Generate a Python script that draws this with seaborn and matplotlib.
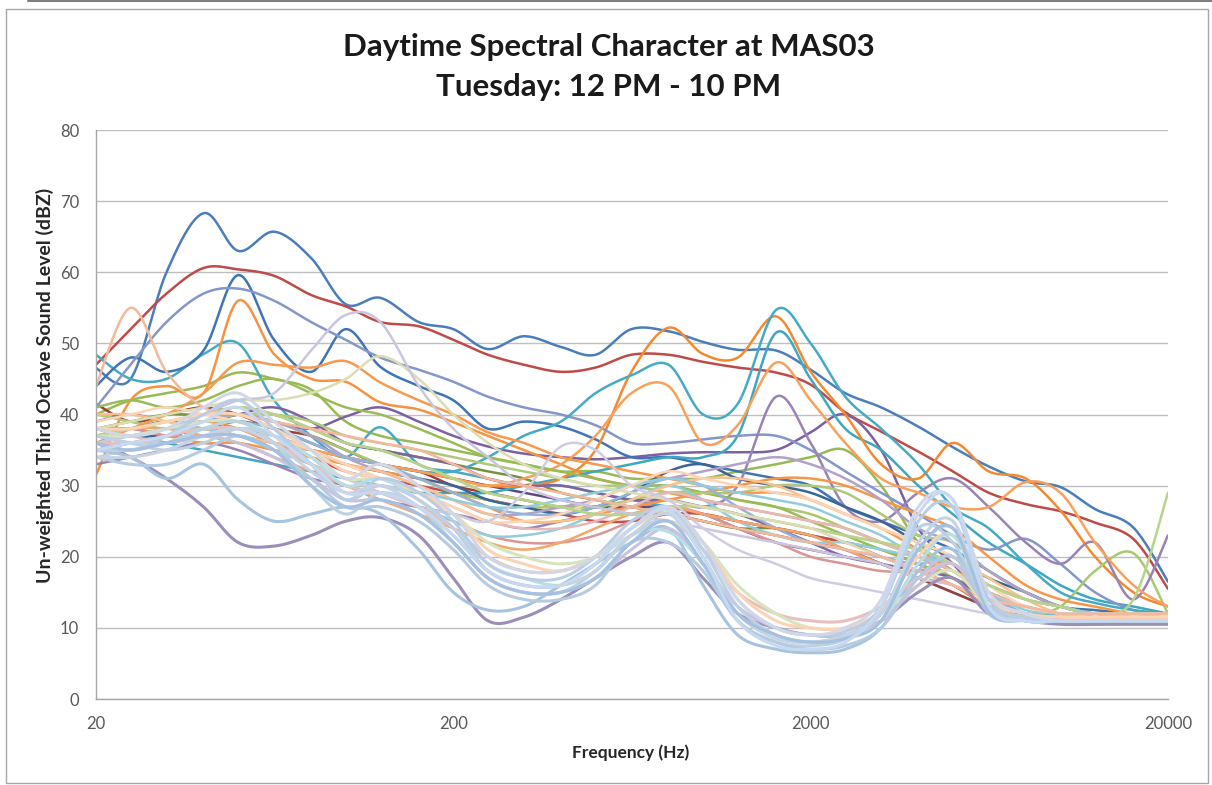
import numpy as np
import matplotlib
matplotlib.use("Agg")
import matplotlib.pyplot as plt
import seaborn as sns
from matplotlib.patches import Rectangle
from matplotlib.lines import Line2D
from matplotlib.ticker import NullLocator

# ---------------- data (third-octave band levels, dBZ) ----------------
freqs = [20, 25, 31.5, 40, 50, 63, 80, 100, 125, 160, 200, 250, 315, 400, 500,
         630, 800, 1000, 1250, 1600, 2000, 2500, 3150, 4000, 5000, 6300, 8000,
         10000, 12500, 16000, 20000]

x_ticks = [20, 200, 2000, 20000]
x_tick_labels = ["20", "200", "2000", "20000"]
y_ticks = [0, 10, 20, 30, 40, 50, 60, 70, 80]

title_line1 = "Daytime Spectral Character at MAS03"
title_line2 = "Tuesday: 12 PM - 10 PM"
x_label = "Frequency (Hz)"
y_label = "Un-weighted Third Octave Sound Level (dBZ)"

# prominent spectra
blue_a = [46.5, 45, 60, 68.3, 63, 65.7, 62, 55.5, 56.4, 53, 52, 49.2, 51, 49.5, 48.4, 52, 51.7, 50.2, 49.1, 49, 46.3, 43, 41, 38.3, 35.4, 32.7, 30.6, 29.8, 26.7, 24.1, 16.5]
red_a = [47, 52, 57, 60.6, 60.4, 59.5, 56.8, 55.2, 53, 52.4, 50.5, 48.4, 47, 46, 46.6, 48.4, 48.4, 47.4, 46.6, 45.9, 44.2, 40.3, 37.6, 34.8, 32, 29, 27.4, 26.4, 24.8, 22.5, 15.5]
blue_b = [44, 48, 46, 49, 59.6, 50.5, 46, 52, 46.7, 44, 42, 38, 39, 38.3, 36.5, 34, 34, 33, 32, 31, 30, 27, 25, 23, 21, 18, 15, 13, 12.5, 12, 12]
peri = [41, 47, 53, 57, 57.7, 56, 53, 50.5, 48, 46.3, 44.6, 42.5, 41, 40, 38.5, 36, 36, 36.5, 37, 37, 35, 32, 29, 26, 23, 21, 22.5, 19, 15, 12.5, 12]
peach = [44, 55, 46, 41, 40, 39, 38, 37, 36, 35, 33, 31, 30, 29, 28, 27, 26, 25, 24, 23, 22, 21, 20, 18, 16, 14, 13, 12, 12, 12, 12]
orange_a = [31.5, 42, 44, 43, 56, 48.5, 45, 44.6, 41.7, 40.7, 38.9, 37, 35, 33, 31, 30, 29, 28, 27, 26, 25, 24, 22, 20, 18, 16, 14, 13, 12, 12, 12]
orange_b = [36, 38, 40, 43, 47.3, 47, 46.6, 47.5, 44.5, 42, 40, 37.5, 36, 34, 33, 32, 31, 30, 29, 29, 28, 26, 24, 21, 18, 16, 14, 13, 12, 12, 12]
orange_c = [38, 37, 38, 39, 38, 36, 35, 34, 33, 32, 31, 30, 30, 31, 35, 46, 52.2, 48.5, 48, 53.8, 46, 40, 33, 31, 36, 32, 31, 26.5, 20, 15, 13]
orange_d = [35, 36, 37, 38, 37, 36, 35, 34, 33, 32, 31, 30, 31, 33, 37, 43, 44, 36, 38.5, 47.3, 42, 36, 31, 29, 27, 27, 30.5, 29, 22, 16, 13]
teal_a = [48.4, 45, 45, 48.5, 50, 42, 37, 34, 38.2, 33, 32, 31, 30, 30, 29, 28, 27, 26, 25, 24, 23, 21, 19, 17, 15, 13, 12, 12, 11.5, 11.5, 11.5]
teal_b = [37, 38, 39, 38, 37, 36, 35, 34, 33, 32, 32, 34, 37, 39, 43, 45.5, 47, 40, 41.5, 54.7, 50, 42.5, 38, 33, 27, 24, 19, 15, 13.5, 12.5, 12]
teal_c = [36, 37, 36, 35, 34, 33, 32, 31, 30, 29, 29, 29, 30, 31, 32, 33, 34, 34, 37, 51.5, 45, 38, 35, 30, 26, 22, 19, 16, 14, 13, 12]
lav_a = [33, 34, 35, 36, 35, 33, 31, 30, 28, 27, 26, 25, 24, 25, 26, 27, 28, 27, 30, 42.5, 36, 27, 25, 29, 31, 27, 22, 19, 22, 14, 23]
purple_a = [38, 37, 38, 39, 40, 39, 38, 39.7, 41, 39, 37, 35.5, 34.5, 34, 33.7, 34, 34.5, 34.7, 34.7, 35, 37.5, 40, 35, 24, 19, 14, 12, 12, 11.5, 11.5, 11.5]
gray_lav = [36, 37, 38, 40, 42, 43, 49, 54, 53, 44, 38, 34, 30, 28, 27, 26, 25, 24, 23, 22, 21, 20, 19, 17, 16, 14, 13, 12, 12, 11.5, 11.5]
gray_b = [34, 35, 36, 37, 38, 36, 33, 31, 29, 27, 26, 25, 29, 35.5, 35, 30, 28, 24, 21, 19, 17, 16, 15, 14, 13, 12, 11.5, 11, 11, 11, 11]
beige = [38, 39, 40, 41, 42, 42, 43, 45, 48.2, 45, 40, 36, 33, 31, 30, 29, 28, 27, 26, 25, 24, 22, 20, 18, 16, 14, 13, 12, 12, 12, 12]
green_a = [40, 42, 43, 44, 45.9, 45, 43.5, 39, 37, 36, 35, 34, 33, 32, 32, 31, 31, 31, 32, 33, 34, 35, 30, 22, 18, 15, 13, 12, 12, 12, 12]
green_tail = [37, 38, 39, 40, 41, 40, 38, 36, 35, 33, 31, 29, 28, 27, 26, 26, 27, 27, 26, 25, 24, 23, 22, 21, 19, 16, 14, 13, 12, 14, 29]
green_bump = [38, 38, 39, 40, 40, 39, 37, 35, 33, 31, 29, 28, 27, 27, 27, 28, 29, 29, 28, 27, 26, 24, 22, 20, 17, 14, 12, 13, 18, 20.5, 12]

# mid-level spectra
mid_01 = [41, 42, 41, 42, 44, 45, 43, 41, 40, 38, 36, 34, 33, 32, 31, 30, 30, 29, 28, 27, 25, 23, 21, 19, 17, 15, 13, 12, 12, 12, 12]
mid_02 = [39, 40, 39, 39, 40, 41, 39, 36, 35, 34, 33, 31, 30, 30, 29, 28, 28, 27, 26, 24, 22, 20, 19, 18, 17, 14, 12, 11.5, 11.5, 11.5, 11.5]
mid_03 = [41.5, 39, 40, 41, 40, 38, 37, 35, 33, 32, 30, 29, 28, 27, 27, 26, 26, 25, 24, 23, 22, 21, 19, 17, 15, 13, 12, 11, 11, 11, 11]
mid_04 = [37, 38, 39, 40, 41, 40, 38, 36, 35, 33, 31, 29, 28, 27, 26, 26, 27, 27, 26, 25, 24, 23, 22, 21, 19, 16, 14, 13, 12, 12, 12]
mid_05 = [40, 40, 39, 38, 37, 36, 35, 33, 32, 30, 28, 26, 25, 25, 26, 28, 30, 31, 31, 30, 28, 26, 24, 22, 20, 17, 14, 12, 11.5, 11.5, 11.5]
mid_06 = [36, 37, 38, 38, 37, 35, 33, 31, 30, 29, 28, 27, 27, 28, 29, 30, 31, 30, 29, 28, 27, 25, 23, 20, 19, 16, 14, 13, 12, 12, 12]
mid_07 = [38, 37, 36, 37, 38, 37, 35, 33, 31, 29, 27, 25, 24, 24, 25, 27, 29, 28, 27, 26, 25, 24, 22, 20, 18, 15, 13, 12, 12, 12, 12]
mid_08 = [36, 37, 37, 38, 38, 37, 35, 33, 32, 31, 30, 28, 27, 26, 27, 29, 32, 33, 31, 30, 29, 27, 25, 22, 20, 17, 15, 13, 12, 12, 12]
mid_09 = [37, 38, 37, 36, 36, 35, 34, 33, 32, 31, 29, 27, 25, 25, 26, 27, 28, 29, 30, 31, 31, 30, 28, 26, 24, 20, 16, 14, 13, 12, 12]
mid_10 = [40, 39, 38, 39, 40, 40, 39, 37, 36, 35, 34, 33, 32, 31, 30, 30, 29, 29, 29, 30, 30, 29, 26, 23, 22, 18, 15, 13, 12, 12, 12]
mid_11 = [37, 36, 36, 37, 38, 36, 34, 32, 31, 30, 29, 28, 27, 26, 25, 25, 26, 26, 25, 24, 23, 22, 20, 18, 16, 13, 11.5, 11, 11, 11, 11]
mid_12 = [35, 36, 37, 39, 40, 39, 37, 34, 32, 30, 28, 26, 26, 27, 28, 30, 31, 32, 33, 34, 33, 31, 28, 24, 22, 18, 15, 13, 12, 12, 12]
mid_13 = [39, 40, 41, 40, 39, 37, 35, 33, 31, 29, 27, 25, 25, 26, 28, 30, 32, 31, 30, 29, 28, 26, 24, 22, 20, 16, 13, 12, 11.5, 11.5, 11.5]
mid_14 = [37, 37, 38, 39, 39, 38, 36, 34, 33, 31, 29, 27, 26, 26, 27, 29, 31, 30, 27, 24, 22, 21, 20, 19, 20, 15, 12, 11.5, 11.5, 11.5, 11.5]
mid_15 = [38, 38, 37, 37, 37, 35, 33, 31, 29, 27, 25, 23, 22, 22, 23, 25, 27, 26, 24, 22, 20, 19, 18, 18, 19, 14, 12, 11.5, 11.5, 11.5, 11.5]
mid_16 = [36, 36, 37, 38, 38, 36, 33, 30, 29, 27, 25, 23, 23, 24, 26, 28, 30, 28, 25, 23, 22, 22, 21, 20, 19, 15, 12.5, 12, 12, 12, 12]
mid_17 = [35, 36, 37, 38, 39, 38, 36, 34, 33, 32, 31, 30, 29, 28, 27, 27, 27, 26, 24, 22, 21, 20, 19, 17, 16, 13, 11.5, 11, 11, 11, 11]
mid_18 = [37, 38, 38, 37, 36, 34, 32, 30, 28, 26, 24, 22, 21, 22, 24, 26, 27, 26, 25, 24, 23, 21, 19, 17, 16, 13, 11.5, 11, 11, 11, 11]
mid_19 = [38, 39, 40, 40, 41, 40, 38, 36, 35, 34, 33, 32, 31, 29, 28, 27, 26, 25, 24, 24, 23, 22, 21, 19, 17, 14, 12, 11.5, 11.5, 11.5, 11.5]

# low, light spectra (bumps near 800 Hz and 4-5 kHz)
low_01 = [37, 36, 35, 36, 38, 37, 33, 28, 30, 28, 24, 18, 16, 16, 19, 24, 26.5, 21, 13, 9, 8, 9, 12, 21, 24, 14, 11, 11, 11, 11, 11]
low_02 = [35, 35, 36, 38, 39, 36, 30, 26, 29, 27, 22, 17, 15, 15, 18, 23, 25, 19, 11, 8, 7.5, 8.5, 13, 24, 22, 13, 11, 11, 11, 11, 11]
low_03 = [38, 37, 38, 41, 43, 39, 35, 31, 33, 30, 26, 20, 18, 18, 20, 24, 27, 22, 14, 10, 9, 10, 14, 27, 28, 15, 12, 11, 11, 11, 11]
low_04 = [34, 33, 33, 35, 37, 35, 31, 27, 27, 25, 21, 16, 14, 14, 16, 22, 22, 18, 11, 8, 7, 7.5, 10, 17, 20, 13, 11, 11, 11, 11, 11]
low_05 = [36, 34, 31, 27, 22, 21.5, 23, 25, 25.5, 23, 17, 11, 11.5, 14, 17, 20, 22, 17, 12, 10, 9, 9, 11, 15, 17, 12, 11, 10.5, 10.5, 10.5, 10.5]
low_06 = [35, 34, 31, 33, 28, 25, 26, 27, 26, 21, 15, 12.5, 13, 16, 19, 22, 24, 16, 9, 7, 6.5, 7, 10, 18, 21, 12, 11, 11, 11, 11, 11]
low_07 = [36, 35, 37, 40, 42, 38, 33, 28, 31, 29, 25, 19, 17, 17, 20, 25, 27, 22, 14, 10, 9, 9.5, 13, 25, 27, 14, 11.5, 11, 11, 11, 11]
low_08 = [34, 34, 35, 37, 38, 36, 32, 29, 30, 27, 23, 18, 16, 16, 18, 23, 26, 20, 12, 8.5, 8, 9, 12, 22, 25, 13, 11, 11, 11, 11, 11]
low_09 = [37, 36, 36, 38, 39, 37, 34, 30, 31, 28, 24, 19, 17, 16, 18, 23, 23.5, 19, 12, 9, 8, 8.5, 11, 19, 23, 13, 11, 11, 11, 11, 11]
low_10 = [36, 36, 37, 38, 38, 36, 33, 30, 29, 27, 24, 20, 18, 18, 20, 23, 25, 21, 15, 12, 11, 11, 13, 17, 19, 14, 12, 11.5, 11.5, 11.5, 11.5]
low_11 = [35, 35, 36, 37, 36, 34, 31, 28, 28, 26, 22, 17, 15, 15, 17, 21, 24, 19, 13, 10, 9, 9, 11, 16, 19, 13, 11, 11, 11, 11, 11]
low_12 = [37, 37, 38, 39, 39, 37, 34, 31, 31, 29, 26, 22, 20, 19, 20, 23, 25, 22, 16, 12, 10, 10, 12, 16, 18, 13, 11.5, 11, 11, 11, 11]
low_13 = [35, 36, 37, 39, 41, 37, 33, 29, 29, 27, 23, 18, 16, 16, 19, 24, 26.5, 20, 11, 7.5, 7, 8, 13, 26, 28, 13, 11, 11, 11, 11, 11]
low_14 = [38, 38, 39, 40, 40, 38, 35, 32, 31, 29, 26, 21, 19, 18, 20, 24, 26, 22, 15, 11, 10, 10, 12.5, 20, 23, 14, 12, 11.5, 11.5, 11.5, 11.5]
low_15 = [36, 35, 36, 37, 37, 35, 30, 27, 28, 26, 22, 17, 15, 15, 17, 22, 25, 19, 12, 9, 8, 8.5, 11, 21, 24, 12.5, 11, 11, 11, 11, 11]

# draw order (earlier drawn first), with line colours
series = [
    (blue_a, "#4A7EBB"), (red_a, "#BE4B48"), (green_a, "#98B954"), (purple_a, "#7D60A0"),
    (teal_a, "#46AAC5"), (orange_a, "#F69240"), (blue_b, "#3F74B5"), (mid_03, "#9C3D3A"),
    (mid_19, "#76923C"), (mid_17, "#5F497A"), (teal_c, "#3FA7BF"), (orange_c, "#F38A32"),
    (peri, "#8497C9"), (mid_11, "#C0504D"), (green_bump, "#A9C870"), (lav_a, "#9983B5"),
    (teal_b, "#46AAC5"), (orange_d, "#F9A05A"), (mid_01, "#9BBB59"), (mid_02, "#8064A2"),
    (mid_08, "#3A6595"), (mid_09, "#F79646"), (mid_10, "#AFC97A"), (orange_b, "#F59A4E"),
    (mid_12, "#B3A2C7"), (mid_14, "#95B3D7"), (mid_15, "#DA9694"), (mid_16, "#92CDDC"),
    (mid_18, "#F4A66C"), (mid_04, "#C3D69B"), (mid_05, "#FAC090"), (mid_06, "#93CDDD"),
    (mid_07, "#E6B9B8"), (mid_13, "#FCD5B5"), (green_tail, "#B9D38A"), (beige, "#DCDDB5"),
    (gray_lav, "#CAC6DE"), (gray_b, "#D0CCE2"), (peach, "#F4B89B"),
    (low_05, "#9B8FBA"), (low_06, "#A6C4DE"), (low_10, "#E9BFBE"), (low_12, "#D7E4BD"),
    (low_14, "#FBD4B4"), (low_11, "#CCC1DA"), (low_09, "#B7DEE8"), (low_01, "#C0D0E4"),
    (low_02, "#BBD3E0"), (low_04, "#B4CBE2"), (low_07, "#B9CDE5"), (low_08, "#C5D3E5"),
    (low_15, "#A5C0E0"), (low_03, "#D0D8E8"), (low_13, "#C6D9F1"),
]


def smooth_path(xv, yv, n=20):
    """Excel-style smoothed line (cubic Bezier / Catmull-Rom) in log-frequency space."""
    u = np.log10(np.asarray(xv, dtype=float))
    y = np.asarray(yv, dtype=float)
    P = np.column_stack([u, y])
    E = np.vstack([P[0], P, P[-1]])
    t = np.linspace(0, 1, n, endpoint=False)[:, None]
    segs = []
    for i in range(len(P) - 1):
        p0, p1, p2, p3 = E[i], E[i + 1], E[i + 2], E[i + 3]
        b1 = p1 + (p2 - p0) / 6.0
        b2 = p2 - (p3 - p1) / 6.0
        seg = ((1 - t) ** 3) * p1 + 3 * ((1 - t) ** 2) * t * b1 + 3 * (1 - t) * t ** 2 * b2 + t ** 3 * p2
        segs.append(seg)
    segs.append(P[-1:])
    S = np.vstack(segs)
    return 10 ** S[:, 0], S[:, 1]


sns.set_style("white")
plt.rcParams["font.family"] = ["Lato", "DejaVu Sans"]

W, H = 1212, 785
fig = plt.figure(figsize=(W / 100, H / 100), dpi=100)
ax = fig.add_axes([96 / W, 1 - 699 / H, (1168 - 96) / W, (699 - 130) / H])

light = {"#9B8FBA", "#A6C4DE", "#E9BFBE", "#D7E4BD", "#FBD4B4", "#CCC1DA", "#B7DEE8",
         "#C0D0E4", "#BBD3E0", "#B4CBE2", "#B9CDE5", "#C5D3E5", "#A5C0E0", "#D0D8E8", "#C6D9F1"}

for vals, col in series:
    xs, ys = smooth_path(freqs, vals)
    sns.lineplot(x=xs, y=ys, ax=ax, color=col, estimator=None, sort=False,
                 linewidth=2.2 if col in light else 1.8, legend=False)

ax.set_xscale("log")
ax.set_xlim(20, 20000)
ax.set_ylim(0, 80)
ax.set_xticks(x_ticks)
ax.set_xticklabels(x_tick_labels)
ax.xaxis.set_minor_locator(NullLocator())
ax.set_yticks(y_ticks)
ax.set_yticklabels([str(v) for v in y_ticks])
ax.yaxis.grid(True, color="#BFBFBF", linewidth=1.0)
ax.xaxis.grid(False)
ax.set_axisbelow(True)
for s in ["top", "right"]:
    ax.spines[s].set_visible(False)
for s in ["left", "bottom"]:
    ax.spines[s].set_color("#A6A6A6")
    ax.spines[s].set_linewidth(1.0)
ax.tick_params(axis="both", length=0, labelsize=12, colors="#595959", pad=12)
ax.set_xlabel("")
ax.set_ylabel("")

fig.text(609 / W, 1 - 47 / H, title_line1, ha="center", va="center",
         fontsize=22.5, fontweight="bold", color="#1A1A1A")
fig.text(609 / W, 1 - 87 / H, title_line2, ha="center", va="center",
         fontsize=22.5, fontweight="bold", color="#1A1A1A")
fig.text(631 / W, 1 - 753 / H, x_label, ha="center", va="center",
         fontsize=12.5, fontweight="bold", color="#262626")
fig.text(45 / W, 1 - 385 / H, y_label, ha="center", va="center", rotation=90,
         fontsize=14, fontweight="bold", color="#262626")

fig.add_artist(Rectangle((6 / W, 1 - 783 / H), (1208 - 6) / W, (783 - 9) / H,
                         transform=fig.transFigure, fill=False, edgecolor="#A6A6A6", linewidth=1.0))
fig.add_artist(Line2D([28 / W, 1.0], [1 - 1 / H, 1 - 1 / H], transform=fig.transFigure,
                      color="#7F7F7F", linewidth=1.5))

fig.savefig("out.png", dpi=100, facecolor="white")
